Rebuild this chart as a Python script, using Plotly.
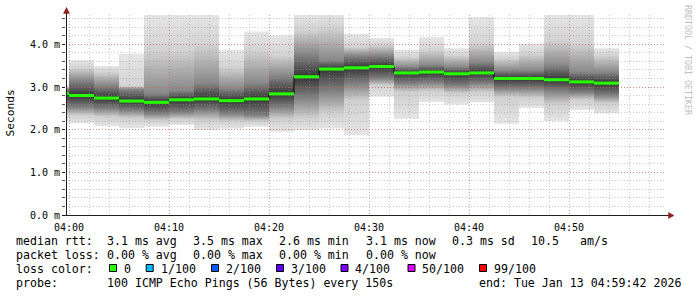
import plotly.graph_objects as go
import pandas as pd

# ---------------- data ----------------
# each step covers the 150 s ending at these times
step_end_times = pd.date_range("2026-01-13 04:00:00", periods=23, freq="150s")
step_seconds = 150

# per-step smoke levels in ms (max, outer upper, inner upper, median, inner lower, outer lower, min)
rtt_max    = [3.05, 3.63, 3.49, 3.78, 4.75, 4.75, 4.75, 3.88, 4.30, 4.21, 4.75, 4.75,
              4.25, 4.15, 3.88, 4.17, 3.91, 4.64, 3.82, 4.02, 4.75, 4.75, 3.91]
rtt_hi_out = [3.00, 3.44, 3.35, 3.02, 3.86, 3.86, 3.99, 3.47, 3.86, 3.74, 4.33, 4.40,
              3.94, 3.98, 3.70, 3.86, 3.74, 4.02, 3.67, 3.78, 4.09, 4.02, 3.74]
rtt_hi_in  = [2.95, 3.16, 3.04, 2.95, 2.85, 2.92, 3.09, 2.97, 3.09, 3.27, 3.78, 3.63,
              3.74, 3.74, 3.47, 3.51, 3.47, 3.58, 3.39, 3.39, 3.51, 3.35, 3.35]
rtt_median = [2.85, 2.80, 2.74, 2.67, 2.64, 2.70, 2.72, 2.68, 2.72, 2.84, 3.24, 3.42,
              3.45, 3.48, 3.33, 3.35, 3.31, 3.33, 3.20, 3.20, 3.17, 3.12, 3.09]
rtt_lo_in  = [2.55, 2.53, 2.50, 2.46, 2.38, 2.41, 2.46, 2.38, 2.34, 2.53, 2.77, 2.92,
              3.09, 3.20, 3.09, 3.11, 3.04, 3.09, 2.97, 2.97, 2.92, 2.88, 2.81]
rtt_lo_out = [2.35, 2.34, 2.30, 2.27, 2.22, 2.25, 2.22, 2.20, 2.20, 2.25, 2.27, 2.40,
              2.69, 3.04, 2.88, 2.90, 2.85, 2.88, 2.77, 2.75, 2.60, 2.70, 2.62]
rtt_min    = [2.20, 2.15, 2.08, 2.04, 2.07, 2.11, 1.99, 2.02, 2.07, 1.95, 1.99, 2.03,
              1.87, 2.77, 2.25, 2.65, 2.59, 2.64, 2.14, 2.51, 2.20, 2.46, 2.38]

y_tick_vals = [0, 1, 2, 3, 4]
y_tick_text = ["0.0 m", "1.0 m", "2.0 m", "3.0 m", "4.0 m"]

stat_row1 = ["median rtt:", "3.1 ms avg", "3.5 ms max", "2.6 ms min", "3.1 ms now",
             "0.3 ms sd", "10.5", "am/s"]
stat_row2 = ["packet loss:", "0.00 % avg", "0.00 % max", "0.00 % min", "0.00 % now"]
loss_title = "loss color:"
loss_labels = ["0", "1/100", "2/100", "3/100", "4/100", "50/100", "99/100"]
loss_colors = ["#26ff00", "#00b8ff", "#0059ff", "#5e00ff", "#7e00ff", "#dd00ff", "#ff0000"]
probe_row = ["probe:", "100 ICMP Echo Pings (56 Bytes) every 150s",
             "end: Tue Jan 13 04:59:42 2026"]

# ---------------- layout helpers ----------------
L, T, W, H = 66, 15, 600, 200
FIG_W, FIG_H = 697, 297


def PX(px):
    return (px - L) / W


def PY(py):
    return (T + H - py) / H


MONO = "DejaVu Sans Mono"
x_range = ["2026-01-13 03:59:42", "2026-01-13 04:59:42"]
y_range = [0, 4.6875]

# shades at min, lo_out, lo_in, median, hi_in, hi_out, max
smoke_shades = ["#e5e5e5", "#cfcfcf", "#7e7e7e", "#343434", "#888888", "#d3d3d3", "#e6e6e6"]

fig = go.Figure()

starts = [t - pd.Timedelta(seconds=step_seconds) for t in step_end_times]

for k in range(len(step_end_times)):
    vals = [rtt_min[k], rtt_lo_out[k], rtt_lo_in[k], rtt_median[k],
            rtt_hi_in[k], rtt_hi_out[k], rtt_max[k]]
    lo, hi = vals[0], vals[-1]
    cs = []
    for v, c in zip(vals, smoke_shades):
        p = (v - lo) / (hi - lo)
        if cs and p <= cs[-1][0]:
            p = min(1.0, cs[-1][0] + 1e-4)
        cs.append([p, c])
    cs[0][0] = 0.0
    cs[-1][0] = 1.0
    s, e = starts[k], step_end_times[k]
    fig.add_trace(go.Scatter(
        x=[s, e, e, s, s], y=[lo, lo, hi, hi, lo],
        mode="lines", line=dict(width=0, color="rgba(0,0,0,0)"), fill="toself",
        fillcolor="#999999",
        fillgradient=dict(type="vertical", colorscale=cs),
        hoverinfo="skip", showlegend=False, xaxis="x", yaxis="y"))

# black step line connecting medians
step_x = list(starts) + [step_end_times[-1]]
step_y = list(rtt_median) + [rtt_median[-1]]
fig.add_trace(go.Scatter(x=step_x, y=step_y, mode="lines",
                         line=dict(color="#000000", width=1, shape="hv"),
                         hoverinfo="skip", showlegend=False, xaxis="x2", yaxis="y2"))

# green median segments (loss 0)
gx, gy = [], []
for k in range(len(step_end_times)):
    gx += [starts[k], step_end_times[k], None]
    gy += [rtt_median[k], rtt_median[k], None]
fig.add_trace(go.Scatter(x=gx, y=gy, mode="lines",
                         line=dict(color=loss_colors[0], width=3),
                         hoverinfo="skip", showlegend=False, xaxis="x2", yaxis="y2"))

dom_x = [0, 1]
dom_y = [0, 1]
grid_minor = "rgba(150,150,150,0.5)"
grid_major = "rgba(210,80,80,0.55)"

hidden = dict(showgrid=False, zeroline=False, showline=False, ticks="",
              showticklabels=False, fixedrange=True)

fig.update_layout(
    width=FIG_W, height=FIG_H,
    margin=dict(l=L, r=FIG_W - L - W, t=T, b=FIG_H - T - H, pad=0),
    paper_bgcolor="white", plot_bgcolor="rgba(0,0,0,0)",
    showlegend=False,
    xaxis=dict(type="date", range=x_range, domain=dom_x, anchor="y", **hidden),
    yaxis=dict(range=y_range, domain=dom_y, anchor="x", **hidden),
    xaxis2=dict(type="date", range=x_range, domain=dom_x, anchor="y2",
                tick0="2026-01-13 04:00:00", dtick=600000, tickformat="%H:%M",
                ticks="outside", ticklen=3, tickcolor="rgba(0,0,0,0)", tickwidth=1,
                tickfont=dict(family=MONO, size=10, color="#000"),
                showgrid=True, gridcolor=grid_major, griddash="1px,2px", gridwidth=1,
                minor=dict(dtick=120000, tick0="2026-01-13 04:00:00", showgrid=True,
                           gridcolor=grid_minor, griddash="1px,2px", gridwidth=1,
                           ticks=""),
                showline=False, zeroline=False, fixedrange=True),
    yaxis2=dict(range=y_range, domain=dom_y, anchor="x2",
                tickvals=y_tick_vals, ticktext=y_tick_text,
                ticks="outside", ticklen=3, tickcolor="#222", tickwidth=1,
                tickfont=dict(family=MONO, size=10, color="#000"),
                showgrid=True, gridcolor=grid_major, griddash="1px,2px", gridwidth=1,
                minor=dict(dtick=0.2, tick0=0, showgrid=True,
                           gridcolor=grid_minor, griddash="1px,2px", gridwidth=1,
                           ticks="outside", ticklen=3, tickcolor="#555"),
                showline=False, zeroline=False, fixedrange=True),
)

shapes = []
axis_col = "#1e1e1e"
arrow_col = "#8b1e1e"
# y axis line and x axis line
shapes.append(dict(type="line", xref="paper", yref="paper",
                   x0=PX(66.5), x1=PX(66.5), y0=PY(216), y1=PY(12),
                   line=dict(color=axis_col, width=1)))
shapes.append(dict(type="line", xref="paper", yref="paper",
                   x0=PX(62.5), x1=PX(669), y0=PY(215.5), y1=PY(215.5),
                   line=dict(color=axis_col, width=1)))
# arrows
shapes.append(dict(type="path", xref="paper", yref="paper",
                   path=f"M {PX(66.5)} {PY(7.5)} L {PX(63.5)} {PY(13.5)} L {PX(69.5)} {PY(13.5)} Z",
                   fillcolor=arrow_col, line=dict(color=arrow_col, width=0.5)))
shapes.append(dict(type="path", xref="paper", yref="paper",
                   path=f"M {PX(674)} {PY(215.5)} L {PX(668.5)} {PY(212.5)} L {PX(668.5)} {PY(218.5)} Z",
                   fillcolor=arrow_col, line=dict(color=arrow_col, width=0.5)))

annotations = []


def txt(s, x, y, size=11.6, color="#000", angle=0, xanchor="left"):
    annotations.append(dict(text=s, xref="paper", yref="paper", x=PX(x), y=PY(y),
                            xanchor=xanchor, yanchor="middle", showarrow=False,
                            textangle=angle, borderpad=0, borderwidth=0,
                            font=dict(family=MONO, size=size, color=color)))


row_y = [241.3, 255.3, 269.3, 283.3]
row1_x = [16, 107.3, 193.3, 279.3, 366, 452, 531, 580]
row2_x = [16, 107.3, 193.3, 279.3, 366]
box_x = [109, 145.7, 211, 276, 340.5, 407.5, 479]
row4_x = [16, 107, 478.6]

for s, x in zip(stat_row1, row1_x):
    txt(s, x, row_y[0])
for s, x in zip(stat_row2, row2_x):
    txt(s, x, row_y[1])
txt(loss_title, 16, row_y[2])
for lab, col, bx in zip(loss_labels, loss_colors, box_x):
    shapes.append(dict(type="rect", xref="paper", yref="paper",
                       x0=PX(bx + 0.5), x1=PX(bx + 7.5), y0=PY(271.5), y1=PY(264.5),
                       fillcolor=col, line=dict(color="#000", width=1)))
    txt(lab, bx + 14.8, row_y[2])
for s, x in zip(probe_row, row4_x):
    txt(s, x, row_y[3])

# axis title and watermark
txt("Seconds", 10, 113.5, size=11.2, angle=-90, xanchor="center")
txt("RRDTOOL / TOBI OETIKER", 688, 60, size=8.3, color="#c0c0c0", angle=90, xanchor="center")

fig.update_layout(shapes=shapes, annotations=annotations)
fig.write_html("out.html")
